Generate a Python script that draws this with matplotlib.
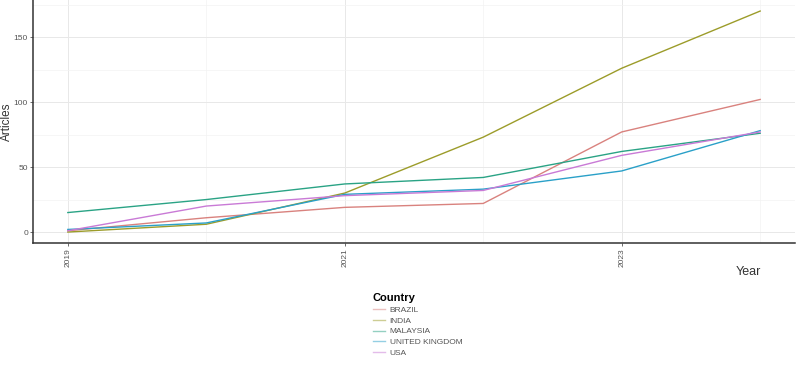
import matplotlib.pyplot as plt
from matplotlib.ticker import MultipleLocator

plt.rcParams['font.family'] = ['Liberation Sans', 'DejaVu Sans']

years = [2019, 2020, 2021, 2022, 2023, 2024]
countries = ['BRAZIL', 'INDIA', 'MALAYSIA', 'UNITED KINGDOM', 'USA']
brazil = [1, 11, 19, 22, 77, 102]
india = [0, 6, 30, 73, 126, 170]
malaysia = [15, 25, 37, 42, 62, 76]
uk = [2, 7, 29, 33, 47, 78]
usa = [1, 20, 28, 32, 59, 77]
series = [brazil, india, malaysia, uk, usa]
colors = ['#d9827e', '#9c9c2a', '#2aa385', '#2aa0c8', '#c97ad6']

fig = plt.figure(figsize=(8, 3.74), dpi=100)
ax = fig.add_axes([0.041, 0.350, 0.953, 0.650])

for name, vals, c in zip(countries, series, colors):
    ax.plot(years, vals, color=c, lw=1.0, label=name)

ax.set_xlim(2018.747, 2024.253)
ax.set_ylim(-8.5, 178.5)
ax.yaxis.set_major_locator(MultipleLocator(50))
ax.yaxis.set_minor_locator(MultipleLocator(25))
ax.set_xticks([2019, 2021, 2023])
ax.set_xticks([2020, 2022, 2024], minor=True)
ax.grid(which='major', color='#e8e8e8', lw=0.7)
ax.grid(which='minor', color='#f3f3f3', lw=0.5)
ax.set_axisbelow(True)

for s in ['top', 'right']:
    ax.spines[s].set_visible(False)
for s in ['left', 'bottom']:
    ax.spines[s].set_color('#333333')
    ax.spines[s].set_linewidth(1.1)

ax.tick_params(axis='both', which='major', labelsize=6, colors='#555555',
               length=2.5, width=0.6, pad=1)
ax.tick_params(axis='both', which='minor', length=0)
ax.tick_params(axis='x', labelrotation=90)
for lbl in ax.get_xticklabels():
    lbl.set_verticalalignment('top')

ax.set_ylabel('Articles', fontsize=8.5, color='#333333', va='center')
ax.yaxis.set_label_coords(-0.034, 0.5)
fig.text(0.935, 0.273, 'Year', fontsize=9, color='#333333', ha='center', va='center')

handles, labels = ax.get_legend_handles_labels()
leg = fig.legend(handles, labels, title='Country', loc='upper left',
                 bbox_to_anchor=(0.462, 0.225), frameon=False,
                 fontsize=6, title_fontsize=8, handlelength=1.4,
                 labelspacing=0.35, handletextpad=0.6, borderaxespad=0)
leg.get_title().set_fontweight('bold')
leg._legend_box.align = 'left'
for t in leg.get_texts():
    t.set_color('#555555')
for h in leg.legend_handles:
    h.set_alpha(0.5)

fig.savefig('out.png', dpi=100)
